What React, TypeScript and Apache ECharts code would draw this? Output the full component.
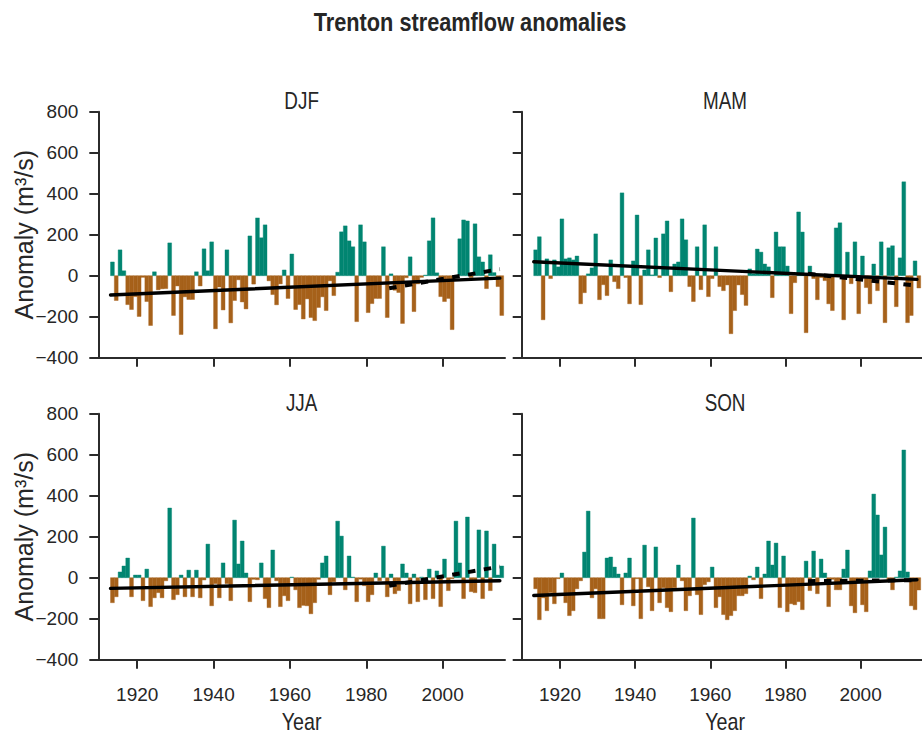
import React, { useEffect, useRef } from "react";
import * as echarts from "echarts";

// ---------------- DATA ----------------
const START_YEAR = 1913;

// DJF anomalies 1913-2015 (m3/s)
const djf = [
  67, -121, 126, 24, -141, -165, -102, -199, -8, -126, // 1913-1922
  -243, 19, -69, -64, -63, 160, -194, -50, -287, -103, // 1923-1932
  -116, -116, 19, -50, 131, 24, 165, -259, -55, -167, // 1933-1942
  126, -230, -121, -20, -128, -162, 194, -41, 282, 185, // 1943-1952
  248, -25, -92, -142, -40, 28, -111, 106, -165, -141, // 1953-1962
  -211, -113, -204, -219, -155, -103, -170, -25, -97, 17, // 1963-1972
  214, 243, 170, 141, -224, 248, 165, -180, -136, -111, // 1973-1982
  -111, 141, -204, 9, -71, -82, -233, -10, 92, -175, // 1983-1992
  -40, -8, 3, 170, 282, 14, -102, -126, -111, -263, // 1993-2002
  -10, 180, 272, 267, -9, 253, 92, 67, -63, 102, // 2003-2012
  15, -53, -194, // 2013-2015
];

// MAM anomalies 1913-2015
const mam = [
  126, 190, -215, 82, -14, 77, 43, 277, 82, 87, // 1913-1922
  77, 96, -137, -83, 9, 38, 204, -117, -44, -97, // 1923-1932
  77, -29, -63, 404, -9, -137, 72, 296, -141, 28, // 1933-1942
  126, 4, 184, -9, 204, 267, -78, 57, 67, 277, // 1943-1952
  175, -53, -126, 141, -68, 248, -102, -14, 141, -53, // 1953-1962
  -73, -45, -283, -170, -45, -92, -145, 33, 10, 130, // 1963-1972
  115, 57, 43, -107, 213, 141, 141, 47, -185, -34, // 1973-1982
  311, 213, -278, 47, -14, -117, -9, -24, -137, -170, // 1983-1992
  233, 258, -215, 115, -39, 165, -185, 96, -58, -137, // 1993-2002
  57, -73, 165, -229, 136, 146, -151, 87, 458, -229, // 2003-2012
  -194, 72, -60, // 2013-2015
];

// JJA anomalies 1913-2015
const jja = [
  -122, -93, 28, 57, 96, -93, 13, 13, -112, 42, // 1913-1922
  -141, -98, -73, -98, -15, 340, -107, -83, 13, -93, // 1923-1932
  37, -93, 37, -98, -11, 164, -137, -29, -98, 72, // 1933-1942
  -29, -112, 281, 67, 179, 23, -117, -8, -10, 72, // 1943-1952
  -102, -146, 135, -15, -141, -88, -112, 3, -59, -146, // 1953-1962
  -135, -137, -176, -122, -8, 72, 106, -83, -20, 276, // 1963-1972
  203, -59, 106, 3, -117, -7, -39, -117, -83, 23, // 1973-1982
  -15, 154, -93, 18, -78, -63, 67, 23, -127, 18, // 1983-1992
  -117, 3, -107, 42, -102, 33, -141, 91, -63, -5, // 1993-2002
  276, 72, -102, 296, -68, -73, 233, -102, 228, -63, // 2003-2012
  164, 13, 57, // 2013-2015
];

// SON anomalies 1913-2015
const son = [
  -54, -205, -98, -161, -73, -127, -5, 23, -122, -185, // 1913-1922
  -161, -54, -15, 125, 325, -98, -54, -200, -200, 96, // 1923-1932
  101, 52, 18, -132, 23, 96, -137, -5, -200, 159, // 1933-1942
  -44, -161, 150, -122, -49, -146, -166, -49, 62, -15, // 1943-1952
  -161, -88, 291, -83, -180, -34, -20, 52, -146, -93, // 1953-1962
  -180, -205, -185, -161, -88, -88, -78, 8, -10, 52, // 1963-1972
  -102, 18, 179, 62, 169, -146, 106, -166, -127, -132, // 1973-1982
  -117, -156, 81, -63, 130, -78, 91, 23, -141, -8, // 1983-1992
  -59, -59, 42, 135, -137, -171, -20, -132, -166, 33, // 1993-2002
  408, 306, 111, 247, -15, -59, 3, 33, 623, 28, // 2003-2012
  -137, -156, -60, // 2013-2015
];

const years = djf.map((_, i) => START_YEAR + i);

// Linear trends: full period and last 30 years
const fullTrendYears = [1913, 2015];
const recentTrendYears = [1986, 2015];
const djfTrendFull = [-94, -12];
const djfTrendRecent = [-61, 32];
const mamTrendFull = [68, -18];
const mamTrendRecent = [10, -49];
const jjaTrendFull = [-52, -15];
const jjaTrendRecent = [-39, 54];
const sonTrendFull = [-87, -10];
const sonTrendRecent = [-17, -12];

const xTicks = [1920, 1940, 1960, 1980, 2000, 2020];
const panelNames = ["DJF", "MAM", "JJA", "SON"];
const titleText = "Trenton streamflow anomalies";
const yName = "Anomaly (m\u00b3/s)";
const xName = "Year";

// ---------------- STYLE / LAYOUT ----------------
const TEAL = "#018571";
const BROWN = "#a6611a";
const INK = "#262626";
const AXIS = "#2b2b2b";
const FONT = "'Liberation Sans', Arial, Helvetica, sans-serif";
const NARROW = 0.82;

const GL = [98.3, 521.7];
const GT = [111.7, 413.7];
const GW = 406.7;
const GH = 246;
const X_MIN = 1909.8;
const X_MAX = 2016.35;

const panelData = [djf, mam, jja, son];
const panelFull = [djfTrendFull, mamTrendFull, jjaTrendFull, sonTrendFull];
const panelRecent = [djfTrendRecent, mamTrendRecent, jjaTrendRecent, sonTrendRecent];

function buildOption() {
  const grid: any[] = [];
  const xAxis: any[] = [];
  const yAxis: any[] = [];
  const series: any[] = [];
  const graphic: any[] = [];

  for (let p = 0; p < 4; p++) {
    const col = p % 2;
    const row = Math.floor(p / 2);
    grid.push({ left: GL[col], top: GT[row], width: GW, height: GH, containLabel: false });
    xAxis.push({
      type: "value",
      gridIndex: p,
      min: X_MIN,
      max: X_MAX,
      axisLine: { show: true, onZero: false, lineStyle: { color: AXIS, width: 2 } },
      axisTick: { show: true, length: 9, inside: false, lineStyle: { color: AXIS, width: 2 }, customValues: xTicks },
      axisLabel: {
        show: row === 1,
        customValues: xTicks,
        margin: 25,
        fontSize: 19,
        fontFamily: FONT,
        color: INK,
        formatter: (v: number) => String(v),
      },
      splitLine: { show: false },
    });
    yAxis.push({
      type: "value",
      gridIndex: p,
      min: -400,
      max: 800,
      interval: 200,
      axisLine: { show: true, onZero: false, lineStyle: { color: AXIS, width: 2 } },
      axisTick: { show: true, length: 9, inside: false, lineStyle: { color: AXIS, width: 2 } },
      axisLabel: {
        show: col === 0,
        margin: 20,
        fontSize: 19,
        fontFamily: FONT,
        color: INK,
        formatter: (v: number) => (v < 0 ? "\u2212" + Math.abs(v) : String(v)),
      },
      splitLine: { show: false },
    });

    const vals = panelData[p];
    series.push({
      type: "custom",
      xAxisIndex: p,
      yAxisIndex: p,
      z: 2,
      silent: true,
      encode: { x: 0, y: 1 },
      data: years.map((y, i) => [y, vals[i]]),
      renderItem: (_params: any, api: any) => {
        const x = api.value(0);
        const v = api.value(1);
        const p0 = api.coord([x, 0]);
        const p1 = api.coord([x + 1, v]);
        const color = v >= 0 ? TEAL : BROWN;
        return {
          type: "rect",
          shape: {
            x: p0[0],
            y: Math.min(p0[1], p1[1]),
            width: p1[0] - p0[0],
            height: Math.abs(p1[1] - p0[1]),
          },
          style: { fill: color, stroke: color, lineWidth: 0.4 },
        };
      },
    });
    series.push({
      type: "line",
      xAxisIndex: p,
      yAxisIndex: p,
      z: 5,
      silent: true,
      symbol: "none",
      data: fullTrendYears.map((y, i) => [y, panelFull[p][i]]),
      lineStyle: { color: "#000", width: 3.4, cap: "round" },
    });
    series.push({
      type: "line",
      xAxisIndex: p,
      yAxisIndex: p,
      z: 6,
      silent: true,
      symbol: "none",
      data: recentTrendYears.map((y, i) => [y, panelRecent[p][i]]),
      lineStyle: { color: "#000", width: 4, type: [7.5, 8.5], cap: "butt" },
    });

    // panel title
    graphic.push({
      type: "text",
      x: GL[col] + GW / 2,
      y: GT[row] - 11,
      scaleX: NARROW,
      style: {
        text: panelNames[p],
        fontSize: 23,
        fontFamily: FONT,
        fill: INK,
        align: "center",
        verticalAlign: "middle",
      },
    });
    if (col === 0) {
      graphic.push({
        type: "text",
        x: 24,
        y: GT[row] + GH / 2,
        rotation: Math.PI / 2,
        style: {
          text: yName,
          fontSize: 25,
          fontFamily: FONT,
          fill: INK,
          align: "center",
          verticalAlign: "middle",
        },
      });
    }
    if (row === 1) {
      graphic.push({
        type: "text",
        x: GL[col] + GW / 2,
        y: 722,
        scaleX: NARROW,
        style: {
          text: xName,
          fontSize: 24,
          fontFamily: FONT,
          fill: INK,
          align: "center",
          verticalAlign: "middle",
        },
      });
    }
  }

  graphic.push({
    type: "text",
    x: 470,
    y: 22,
    scaleX: NARROW,
    style: {
      text: titleText,
      fontSize: 26.5,
      fontWeight: "bold",
      fontFamily: FONT,
      fill: INK,
      align: "center",
      verticalAlign: "middle",
    },
  });

  return {
    animation: false,
    backgroundColor: "#ffffff",
    grid,
    xAxis,
    yAxis,
    series,
    graphic,
  };
}

export default function App() {
  const ref = useRef<HTMLDivElement>(null);
  useEffect(() => {
    if (!ref.current) return;
    const chart = echarts.init(ref.current, null, { renderer: "svg" });
    chart.setOption(buildOption() as any);
    return () => chart.dispose();
  }, []);
  return (
    <div
      ref={ref}
      style={{ position: "fixed", left: 0, top: 0, width: 922, height: 739, background: "#fff", overflow: "hidden" }}
    />
  );
}
